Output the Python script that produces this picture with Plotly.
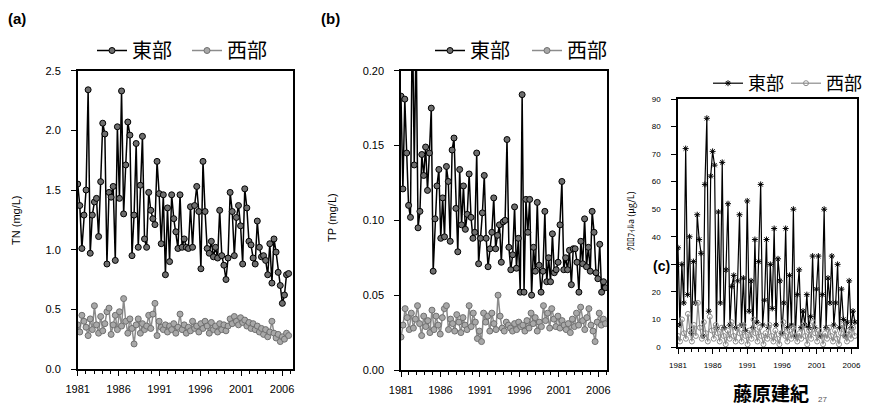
import numpy as np
import plotly.graph_objects as go

# page is drawn inside the browser's default 8px body margin
OFF = 8
W, H = 871 - 2 * OFF, 414 - 2 * OFF

# ---------------- data ----------------
tn_east = [1.55, 1.37, 1.01, 1.29, 1.50, 2.34, 0.97, 1.29, 1.40, 1.43,
           1.11, 1.57, 2.06, 1.97, 0.88, 1.48, 1.44, 1.53, 0.91, 2.03,
           1.43, 2.33, 1.30, 1.71, 2.07, 1.96, 0.95, 1.29, 1.89, 1.02,
           1.54, 1.95, 1.09, 1.02, 1.48, 1.33, 1.26, 1.21, 1.74, 1.47,
           1.05, 1.46, 0.79, 1.35, 0.90, 1.46, 1.26, 1.15, 1.01, 1.46,
           1.02, 1.09, 1.02, 1.01, 1.36, 1.02, 1.37, 1.53, 1.32, 0.84,
           1.74, 1.32, 1.01, 0.97, 1.07, 0.94, 1.02, 0.93, 1.33, 0.95,
           0.87, 0.75, 0.93, 1.48, 1.32, 0.95, 1.27, 1.37, 1.20, 0.88,
           1.51, 1.35, 1.07, 1.04, 0.93, 0.88, 1.24, 1.02, 0.94, 0.95,
           0.91, 0.79, 1.05, 0.72, 1.09, 0.98, 0.81, 0.70, 0.55, 0.62,
           0.79, 0.80]
tn_west = [0.37, 0.31, 0.45, 0.40, 0.35, 0.28, 0.42, 0.33, 0.53, 0.37,
           0.30, 0.44, 0.32, 0.38, 0.48, 0.51, 0.29, 0.37, 0.45, 0.33,
           0.48, 0.36, 0.59, 0.40, 0.30, 0.42, 0.34, 0.21, 0.37, 0.42,
           0.30, 0.38, 0.33, 0.36, 0.45, 0.34, 0.46, 0.55, 0.28, 0.40,
           0.35, 0.33, 0.37, 0.31, 0.36, 0.33, 0.38, 0.30, 0.35, 0.46,
           0.33, 0.37, 0.30, 0.35, 0.32, 0.40, 0.34, 0.36, 0.31, 0.38,
           0.34, 0.40, 0.36, 0.30, 0.39, 0.33, 0.36, 0.31, 0.38, 0.33,
           0.37, 0.32, 0.36, 0.42, 0.38, 0.44, 0.40, 0.37, 0.43, 0.39,
           0.41, 0.36, 0.39, 0.34, 0.38, 0.33, 0.36, 0.31, 0.34, 0.29,
           0.33, 0.27, 0.31, 0.40, 0.30, 0.26, 0.29, 0.23, 0.27, 0.25,
           0.30, 0.28]
tp_east = [0.183, 0.121, 0.181, 0.145, 0.110, 0.102, 0.240, 0.137, 0.225, 0.095,
           0.106, 0.144, 0.130, 0.149, 0.120, 0.145, 0.175, 0.066, 0.101, 0.123,
           0.134, 0.088, 0.115, 0.089, 0.136, 0.126, 0.086, 0.147, 0.155, 0.108,
           0.079, 0.134, 0.097, 0.123, 0.094, 0.104, 0.131, 0.102, 0.088, 0.092,
           0.145, 0.071, 0.088, 0.105, 0.130, 0.088, 0.069, 0.081, 0.092, 0.115,
           0.081, 0.090, 0.097, 0.072, 0.099, 0.100, 0.154, 0.082, 0.067, 0.077,
           0.109, 0.068, 0.088, 0.052, 0.184, 0.052, 0.114, 0.092, 0.114, 0.050,
           0.082, 0.066, 0.112, 0.070, 0.052, 0.066, 0.106, 0.059, 0.075, 0.059,
           0.091, 0.065, 0.067, 0.072, 0.097, 0.126, 0.067, 0.075, 0.067, 0.080,
           0.057, 0.081, 0.081, 0.072, 0.052, 0.086, 0.071, 0.101, 0.069, 0.082,
           0.066, 0.106, 0.092, 0.065, 0.061, 0.084, 0.052, 0.059, 0.055]
tp_west = [0.022, 0.030, 0.041, 0.035, 0.027, 0.038, 0.028, 0.034, 0.043, 0.031,
           0.023, 0.036, 0.029, 0.033, 0.025, 0.040, 0.027, 0.036, 0.030, 0.024,
           0.035, 0.041, 0.043, 0.027, 0.034, 0.031, 0.026, 0.037, 0.032, 0.025,
           0.035, 0.030, 0.027, 0.043, 0.029, 0.038, 0.032, 0.021, 0.026, 0.019,
           0.038, 0.032, 0.036, 0.026, 0.038, 0.031, 0.027, 0.050, 0.036, 0.028,
           0.026, 0.032, 0.030, 0.028, 0.026, 0.031, 0.027, 0.032, 0.029, 0.030,
           0.026, 0.033, 0.028, 0.038, 0.031, 0.035, 0.026, 0.032, 0.029, 0.043,
           0.033, 0.038, 0.028, 0.041, 0.034, 0.029, 0.036, 0.028, 0.033, 0.030,
           0.027, 0.031, 0.025, 0.034, 0.029, 0.038, 0.030, 0.042, 0.033, 0.027,
           0.035, 0.041, 0.030, 0.026, 0.019, 0.032, 0.038, 0.030, 0.034, 0.031]
chl_east = [36, 8, 30, 16, 72, 19, 40, 5, 31, 16, 48, 39, 34, 4, 59, 83, 13, 62,
            71, 66, 7, 49, 16, 67, 7, 28, 52, 8, 22, 26, 7, 24, 48, 8, 25, 6, 53,
            13, 24, 7, 39, 9, 31, 59, 8, 17, 39, 7, 30, 14, 43, 8, 32, 24, 5, 16,
            43, 7, 26, 8, 50, 4, 19, 28, 7, 13, 8, 19, 7, 11, 33, 7, 21, 33, 4,
            19, 50, 7, 25, 16, 33, 8, 16, 30, 7, 21, 10, 4, 9, 24, 7, 13, 9]
chl_west = [4, 2, 10, 5, 3, 12, 6, 2, 8, 4, 16, 7, 3, 9, 5, 2, 11, 6, 3, 8,
            5, 2, 7, 4, 1, 6, 3, 9, 4, 2, 7, 5, 2, 8, 4, 1, 6, 3, 10, 5,
            2, 7, 4, 1, 5, 3, 8, 4, 2, 6, 3, 1, 5, 9, 4, 2, 6, 3, 7, 4,
            2, 5, 3, 8, 4, 1, 6, 3, 9, 5, 2, 6, 4, 1, 5, 3, 7, 4, 2, 6,
            3, 1, 5, 8, 4, 2, 6, 3, 7, 4]

year_ticks = [1981, 1986, 1991, 1996, 2001, 2006]
chl_ticks = [0, 10, 20, 30, 40, 50, 60, 70, 80, 90]
chl_ticktext = ["0", "10", "20", "", "40", "50", "60", "70", "80", "90"]  # "30" is hidden under "(c)"
series_names = ["東部", "西部"]


def xs(vals, end):
    return np.linspace(1981, end, len(vals))


def fx(x):  # window pixel -> paper fraction
    return (x - OFF) / W


def fy(y):
    return 1 - (y - OFF) / H


def px(x0, x1):
    return [fx(x0), fx(x1)]


def py(top, bottom):
    return [fy(bottom), fy(top)]


fig = go.Figure()

east_line = dict(color="black", width=1.5)
east_marker = dict(symbol="circle", size=6, color="#6e6e6e", line=dict(color="black", width=1))
west_line = dict(color="#8c8c8c", width=1.5)
west_marker = dict(symbol="circle", size=6, color="#a8a8a8", line=dict(color="#6f6f6f", width=1))
chl_east_line = dict(color="black", width=1.2)
chl_east_marker = dict(symbol="asterisk-open", size=5, color="black", line=dict(color="black", width=1))
chl_west_line = dict(color="#8c8c8c", width=1.2)
chl_west_marker = dict(symbol="circle-open", size=5, color="#8c8c8c", line=dict(color="#8c8c8c", width=1))

# panel (a)
fig.add_trace(go.Scatter(x=xs(tn_east, 2006.8), y=tn_east, mode="lines+markers", name=series_names[0],
                         line=east_line, marker=east_marker, xaxis="x", yaxis="y", legend="legend"))
fig.add_trace(go.Scatter(x=xs(tn_west, 2006.8), y=tn_west, mode="lines+markers", name=series_names[1],
                         line=west_line, marker=west_marker, xaxis="x", yaxis="y", legend="legend2"))
# panel (b)
fig.add_trace(go.Scatter(x=xs(tp_east, 2006.9), y=tp_east, mode="lines+markers", name=series_names[0],
                         line=east_line, marker=east_marker, xaxis="x2", yaxis="y2", legend="legend3"))
fig.add_trace(go.Scatter(x=xs(tp_west, 2006.9), y=tp_west, mode="lines+markers", name=series_names[1],
                         line=west_line, marker=west_marker, xaxis="x2", yaxis="y2", legend="legend4"))
# panel (c)
fig.add_trace(go.Scatter(x=xs(chl_east, 2006.5), y=chl_east, mode="lines+markers", name=series_names[0],
                         line=chl_east_line, marker=chl_east_marker, xaxis="x3", yaxis="y3", legend="legend5"))
fig.add_trace(go.Scatter(x=xs(chl_west, 2006.5), y=chl_west, mode="lines+markers", name=series_names[1],
                         line=chl_west_line, marker=chl_west_marker, xaxis="x3", yaxis="y3", legend="legend6"))

tick_font = dict(family="Liberation Sans, Arial, sans-serif", size=11, color="black")
small_font = dict(family="Liberation Sans, Arial, sans-serif", size=8, color="black")


def xaxis(domain, rng, anchor, font, standoff):
    return dict(domain=domain, range=rng, anchor=anchor, automargin=False, showline=True,
                linecolor="black", linewidth=1.5,
                mirror=True, ticks="outside", ticklen=5, tickwidth=1, tickcolor="black",
                tickvals=year_ticks, ticktext=[str(y) for y in year_ticks], tickfont=font,
                ticklabelstandoff=standoff,
                minor=dict(dtick=1, tick0=1981, ticks="outside", ticklen=3, tickcolor="black"),
                showgrid=False, zeroline=False)


def yaxis(domain, rng, dtick, fmt, anchor, font, standoff):
    return dict(domain=domain, range=rng, dtick=dtick, tick0=0, tickformat=fmt, anchor=anchor,
                automargin=False, showline=True, linecolor="black", linewidth=1.5, mirror=True,
                ticks="outside", ticklen=5, tickwidth=1, tickcolor="black", tickfont=font,
                ticklabelstandoff=standoff, showgrid=False, zeroline=False)


def leg(line_start_x, text_center_y, size):
    # plotly draws the legend line sample ~6px right of the legend origin; text centre ~20px below its top
    return dict(orientation="h", x=fx(line_start_x - 6), y=fy(text_center_y - 20),
                xanchor="left", yanchor="top", bgcolor="rgba(0,0,0,0)",
                font=dict(family="Noto Sans CJK JP, sans-serif", size=size, color="black"))


yaxis3 = yaxis(py(99, 347), [0, 90], 10, "d", "x3", small_font, 9)
yaxis3.update(tickmode="array", tickvals=chl_ticks, ticktext=chl_ticktext)

fig.update_layout(
    width=W, height=H, margin=dict(l=0, r=0, t=0, b=0, autoexpand=False),
    paper_bgcolor="white", plot_bgcolor="white", showlegend=True,
    xaxis=xaxis(px(77.7, 292.7), [1981, 2007.3], "y", tick_font, 4),
    yaxis=yaxis(py(70.7, 369), [0, 2.5], 0.5, ".1f", "x", tick_font, 8),
    xaxis2=xaxis(px(401, 607), [1981, 2007.1], "y2", tick_font, 4),
    yaxis2=yaxis(py(70.7, 370), [0, 0.2], 0.05, ".2f", "x2", tick_font, 8),
    xaxis3=xaxis(px(678, 857), [1981, 2006.8], "y3", small_font, 5),
    yaxis3=yaxis3,
    legend=leg(98, 51, 20),
    legend2=leg(193, 51, 20),
    legend3=leg(436, 51, 20),
    legend4=leg(533, 51, 20),
    legend5=leg(714, 85, 18),
    legend6=leg(792, 85, 18),
)

ann_font = dict(family="Liberation Sans, Arial, sans-serif", size=11, color="black")
annotations = [
    dict(text="<b>(a)</b>", x=fx(17), y=fy(19), font=dict(family="Liberation Sans, Arial", size=15, color="black")),
    dict(text="<b>(b)</b>", x=fx(330), y=fy(19), font=dict(family="Liberation Sans, Arial", size=15, color="black")),
    dict(text="<b>(c)</b>", x=fx(661), y=fy(266),
         font=dict(family="Liberation Sans, Arial", size=14, color="black")),
    dict(text="TN (mg/L)", x=fx(16), y=fy(220), textangle=-90, font=ann_font),
    dict(text="TP (mg/L)", x=fx(332), y=fy(218), textangle=-90, font=ann_font),
    dict(text="ｸﾛﾛﾌｨﾙa (μg/L)", x=fx(630), y=fy(221), textangle=-90,
         font=dict(family="Noto Sans CJK JP, sans-serif", size=9, color="black")),
    dict(text="<b>藤原建紀</b>", x=fx(771), y=fy(392),
         font=dict(family="Noto Sans CJK JP, sans-serif", size=19, color="black")),
    dict(text="27", x=fx(822), y=fy(399), font=dict(family="Liberation Sans, Arial", size=8, color="#555")),
]
for a in annotations:
    a.update(xref="paper", yref="paper", showarrow=False, xanchor="center", yanchor="middle")
fig.update_layout(annotations=annotations)

fig.write_html("out.html")
